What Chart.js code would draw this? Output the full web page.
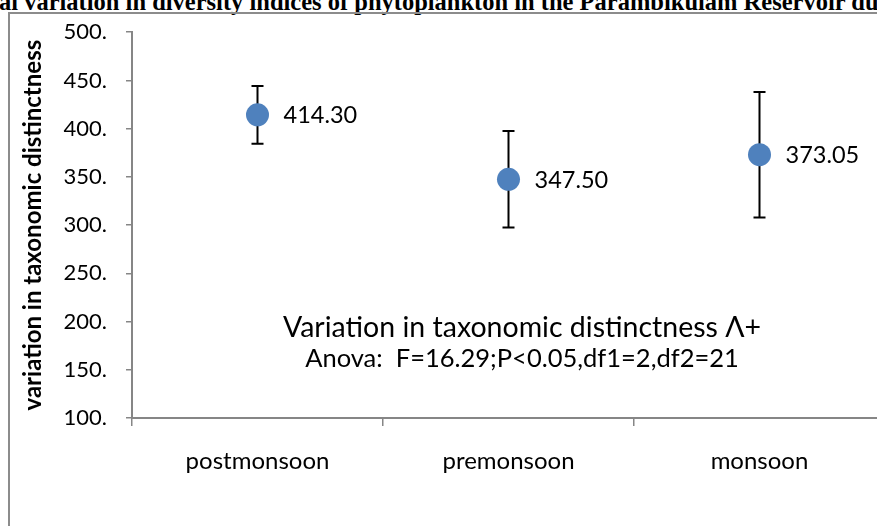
<!DOCTYPE html>
<html>
<head>
<meta charset="utf-8">
<script src="https://cdn.jsdelivr.net/npm/chart.js@4/dist/chart.umd.min.js"></script>
<style>
  html, body { margin: 0; padding: 0; background: #fff; overflow: hidden; width: 877px; height: 526px; }
  #caption { position: absolute; left: -1px; top: -10px; font: bold 24.5px "Liberation Serif", "Times New Roman", serif; line-height: 24px; white-space: nowrap; color: #000; }
  #frame { position: absolute; left: 8px; top: 12px; width: 1000px; height: 600px; border: 2px solid #8c8c8c; }
  #wrap { position: absolute; left: 0; top: 0; width: 900px; height: 526px; }
</style>
</head>
<body>
<div id="caption">al variation in diversity indices of phytoplankton in the Parambikulam Reservoir du</div>
<div id="frame"></div>
<div id="wrap"><canvas id="chart"></canvas></div>
<script>
'use strict';

// ── Data ──────────────────────────────────────────────
const seasons    = ['postmonsoon', 'premonsoon', 'monsoon'];
const meanValues = [414.30, 347.50, 373.05];
const errLow     = [384.3, 297.5, 308.0];
const errHigh    = [444.3, 397.5, 438.0];
const yMin = 100, yMax = 500, yStep = 50;
const yTitle = 'variation in taxonomic distinctness';
const noteLines = ['Variation in taxonomic distinctness \u039B+', 'Anova:  F=16.29;P<0.05,df1=2,df2=21'];

const AXIS_GREY = '#868686';
const FONT = 'Lato, "Open Sans", sans-serif';

// ── Plugins ───────────────────────────────────────────
const errorBars = {
  id: 'errorBars',
  beforeDatasetsDraw(chart) {
    const { ctx, scales: { x, y } } = chart;
    ctx.save();
    ctx.strokeStyle = '#000';
    ctx.lineWidth = 2;
    seasons.forEach((s, i) => {
      const px = x.getPixelForValue(i);
      const top = y.getPixelForValue(errHigh[i]);
      const bot = y.getPixelForValue(errLow[i]);
      ctx.beginPath();
      ctx.moveTo(px, top); ctx.lineTo(px, bot);
      ctx.moveTo(px - 6, top); ctx.lineTo(px + 6, top);
      ctx.moveTo(px - 6, bot); ctx.lineTo(px + 6, bot);
      ctx.stroke();
    });
    ctx.restore();
  }
};

const valueLabels = {
  id: 'valueLabels',
  afterDatasetsDraw(chart) {
    const { ctx } = chart;
    const meta = chart.getDatasetMeta(0);
    ctx.save();
    ctx.fillStyle = '#000';
    ctx.font = '23.5px ' + FONT;
    ctx.textAlign = 'left';
    ctx.textBaseline = 'middle';
    meta.data.forEach((pt, i) => {
      ctx.fillText(meanValues[i].toFixed(2), pt.x + 26, pt.y + 1);
    });
    ctx.restore();
  }
};

const note = {
  id: 'note',
  afterDraw(chart) {
    const { ctx } = chart;
    ctx.save();
    ctx.fillStyle = '#000';
    ctx.textAlign = 'center';
    ctx.textBaseline = 'middle';
    ctx.font = '28.5px ' + FONT;
    ctx.fillText(noteLines[0], 522, 328);
    ctx.font = '25.5px ' + FONT;
    ctx.fillText(noteLines[1], 522, 359);
    ctx.restore();
  }
};

// ── Chart ─────────────────────────────────────────────
new Chart(document.getElementById('chart'), {
  type: 'line',
  data: {
    labels: seasons,
    datasets: [{
      data: meanValues,
      showLine: false,
      pointStyle: 'circle',
      pointRadius: 11.5,
      pointHoverRadius: 11.5,
      pointBackgroundColor: '#4F81BD',
      pointBorderColor: '#4F81BD',
      pointBorderWidth: 0
    }]
  },
  options: {
    responsive: true,
    maintainAspectRatio: false,
    animation: false,
    events: [],
    layout: { padding: { top: 32, right: 15, left: 0, bottom: 0 } },
    plugins: {
      legend: { display: false },
      tooltip: { enabled: false }
    },
    scales: {
      x: {
        type: 'category',
        offset: true,
        afterFit: s => { s.height = 108; },
        grid: { offset: true, drawOnChartArea: false, drawTicks: true, tickLength: 8, color: AXIS_GREY, lineWidth: 1.5 },
        border: { color: AXIS_GREY, width: 2 },
        ticks: { color: '#000', padding: 21, font: { size: 24, family: FONT }, maxRotation: 0 }
      },
      y: {
        min: yMin,
        max: yMax,
        afterFit: s => { s.width = 132; },
        grid: { drawOnChartArea: false, drawTicks: true, tickLength: 6, color: AXIS_GREY, lineWidth: 1.5 },
        border: { color: AXIS_GREY, width: 2 },
        ticks: {
          stepSize: yStep,
          color: '#000',
          padding: 19,
          font: { size: 22, family: FONT },
          callback: v => v + '.'
        },
        title: {
          display: true,
          text: yTitle,
          color: '#000',
          padding: { top: 19, bottom: 0 },
          font: { size: 24, weight: 'bold', family: FONT }
        }
      }
    }
  },
  plugins: [errorBars, valueLabels, note]
});
</script>
</body>
</html>
